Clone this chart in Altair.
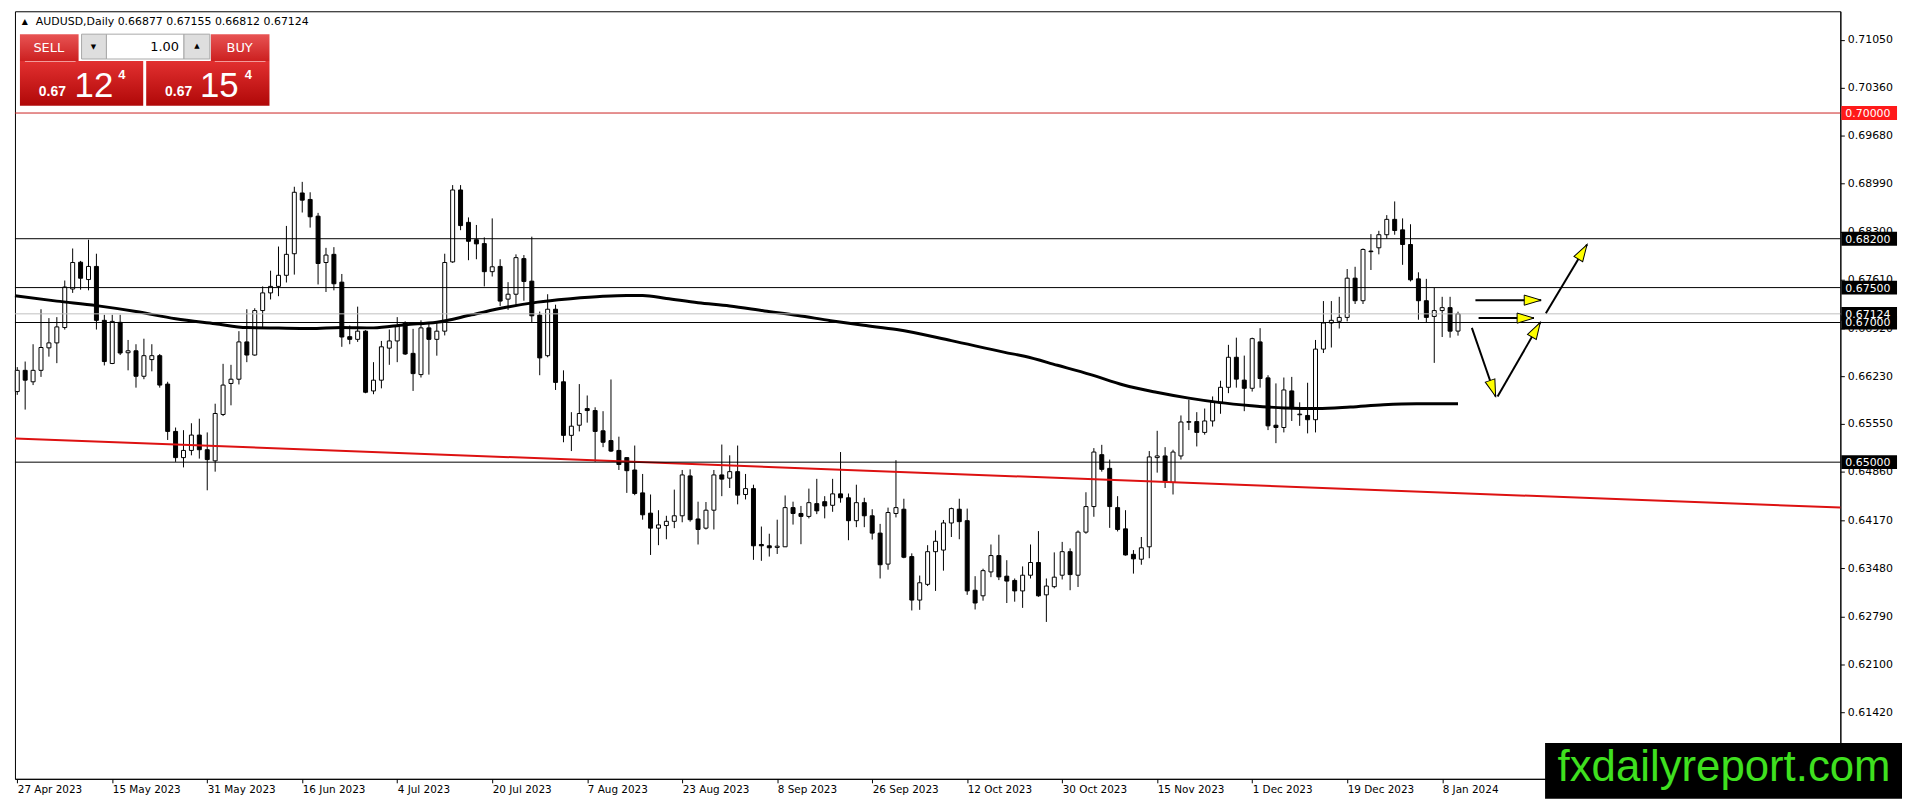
import math
import altair as alt
import pandas as pd

# ---------------- data ----------------
date_labels = ["27 Apr 2023", "15 May 2023", "31 May 2023", "16 Jun 2023", "4 Jul 2023",
               "20 Jul 2023", "7 Aug 2023", "23 Aug 2023", "8 Sep 2023", "26 Sep 2023",
               "12 Oct 2023", "30 Oct 2023", "15 Nov 2023", "1 Dec 2023", "19 Dec 2023",
               "8 Jan 2024"]
label_step = 12  # trading days between axis labels

opens = [0.66011, 0.66315, 0.66151, 0.66315, 0.66637, 0.66708, 0.66928, 0.67480, 0.67863, 0.67615,
         0.67803, 0.67031, 0.66413, 0.67002, 0.66567, 0.66595, 0.66230, 0.66469, 0.66525, 0.66118,
         0.65440, 0.65065, 0.65168, 0.65388, 0.65178, 0.65019, 0.65683, 0.66127, 0.66188, 0.66722,
         0.66534, 0.67171, 0.67424, 0.67517, 0.67676, 0.67985, 0.68855, 0.68762, 0.68523, 0.67859,
         0.67976, 0.67578, 0.66797, 0.66759, 0.66876, 0.66020, 0.66174, 0.66633, 0.66736, 0.66993,
         0.66558, 0.66254, 0.66923, 0.66759, 0.66876, 0.67868, 0.68898, 0.68434, 0.68186, 0.68130,
         0.67728, 0.67803, 0.67335, 0.67405, 0.67915, 0.67592, 0.67106, 0.66525, 0.67190, 0.66151,
         0.65384, 0.65529, 0.65767, 0.65739, 0.65449, 0.65309, 0.65168, 0.65065, 0.64888, 0.64560,
         0.64270, 0.64055, 0.64092, 0.64153, 0.64232, 0.64803, 0.64186, 0.64055, 0.64312, 0.64817,
         0.64771, 0.64864, 0.64537, 0.64621, 0.63821, 0.63802, 0.63779, 0.63788, 0.64349, 0.64265,
         0.64223, 0.64406, 0.64434, 0.64382, 0.64546, 0.64490, 0.64162, 0.64420, 0.64232, 0.63984,
         0.63540, 0.64265, 0.64326, 0.63648, 0.63025, 0.63250, 0.63718, 0.63741, 0.64129, 0.64326,
         0.64162, 0.63166, 0.63086, 0.63428, 0.63662, 0.63367, 0.63306, 0.63156, 0.63381, 0.63563,
         0.63100, 0.63217, 0.63381, 0.63718, 0.63381, 0.63998, 0.64364, 0.65107, 0.64911, 0.64349,
         0.64045, 0.63680, 0.63610, 0.63788, 0.65065, 0.65089, 0.64710, 0.65089, 0.65571, 0.65581,
         0.65426, 0.65590, 0.65847, 0.66072, 0.66502, 0.66175, 0.66058, 0.66722, 0.66207, 0.65529,
         0.65496, 0.66020, 0.65679, 0.65669, 0.65608, 0.66619, 0.66993, 0.67017, 0.67073, 0.67635,
         0.67312, 0.68023, 0.68070, 0.68257, 0.68477, 0.68327, 0.68117, 0.67625, 0.67312, 0.67087,
         0.67171, 0.67213, 0.66877]

highs = [0.66361, 0.66441, 0.66689, 0.67190, 0.67063, 0.67077, 0.67601, 0.68060, 0.67882, 0.68186,
         0.67985, 0.67110, 0.67110, 0.67110, 0.66750, 0.66689, 0.66768, 0.66689, 0.66549, 0.66151,
         0.65496, 0.65458, 0.65557, 0.65622, 0.65426, 0.65837, 0.66408, 0.66394, 0.66876, 0.67190,
         0.67204, 0.67517, 0.67742, 0.68088, 0.68383, 0.68944, 0.69014, 0.68865, 0.68570, 0.68069,
         0.68079, 0.67695, 0.66956, 0.67227, 0.66890, 0.66432, 0.66736, 0.66900, 0.67077, 0.67017,
         0.66909, 0.67031, 0.66993, 0.66993, 0.67985, 0.68968, 0.68968, 0.68505, 0.68397, 0.68219,
         0.68491, 0.67906, 0.67578, 0.67976, 0.67966, 0.68229, 0.67157, 0.67405, 0.67255, 0.66315,
         0.65716, 0.66118, 0.65955, 0.65786, 0.65730, 0.66184, 0.65365, 0.65065, 0.65238, 0.64831,
         0.64537, 0.64312, 0.64232, 0.64607, 0.64888, 0.64897, 0.64434, 0.64429, 0.64888, 0.65252,
         0.65098, 0.65238, 0.64831, 0.64677, 0.64078, 0.63975, 0.64176, 0.64523, 0.64434, 0.64373,
         0.64621, 0.64761, 0.64513, 0.64761, 0.65145, 0.64551, 0.64677, 0.64490, 0.64326, 0.64116,
         0.64349, 0.65028, 0.64476, 0.63694, 0.63376, 0.63811, 0.64022, 0.64172, 0.64349, 0.64476,
         0.64335, 0.63367, 0.63474, 0.63821, 0.63961, 0.63596, 0.63334, 0.63507, 0.63821, 0.64013,
         0.63334, 0.63708, 0.63858, 0.63765, 0.64022, 0.64569, 0.65201, 0.65248, 0.65037, 0.64513,
         0.64312, 0.63741, 0.63928, 0.65159, 0.65449, 0.65215, 0.65178, 0.65669, 0.65894, 0.65716,
         0.65768, 0.65941, 0.66166, 0.66680, 0.66783, 0.66526, 0.66783, 0.66919, 0.66245, 0.66128,
         0.66212, 0.66221, 0.65857, 0.66137, 0.66750, 0.67307, 0.67307, 0.67368, 0.67766, 0.67798,
         0.68060, 0.68266, 0.68313, 0.68538, 0.68734, 0.68491, 0.68407, 0.67719, 0.67625, 0.67494,
         0.67368, 0.67368, 0.67155]

lows = [0.65964, 0.65753, 0.66104, 0.66221, 0.66511, 0.66418, 0.66899, 0.67424, 0.67470, 0.67461,
        0.66899, 0.66385, 0.66404, 0.66534, 0.66315, 0.66067, 0.66188, 0.66301, 0.66067, 0.65318,
        0.65004, 0.64925, 0.65098, 0.65051, 0.64597, 0.64864, 0.65660, 0.65814, 0.66113, 0.66432,
        0.66525, 0.66923, 0.67330, 0.67377, 0.67573, 0.67686, 0.68575, 0.68359, 0.67545, 0.67437,
        0.67461, 0.66652, 0.66689, 0.66722, 0.65987, 0.65973, 0.66057, 0.66394, 0.66432, 0.66535,
        0.66020, 0.66212, 0.66254, 0.66525, 0.66815, 0.67854, 0.68322, 0.67892, 0.67906, 0.67517,
        0.67658, 0.67237, 0.67180, 0.67251, 0.67312, 0.66993, 0.66245, 0.66502, 0.66034, 0.65285,
        0.65159, 0.65440, 0.65566, 0.65005, 0.65215, 0.65145, 0.64888, 0.64560, 0.64527, 0.64176,
        0.63671, 0.63811, 0.63896, 0.64055, 0.64139, 0.64148, 0.63821, 0.64036, 0.64036, 0.64513,
        0.64630, 0.64396, 0.64466, 0.63601, 0.63587, 0.63648, 0.63685, 0.63788, 0.64106, 0.63825,
        0.64195, 0.64256, 0.64195, 0.64289, 0.64420, 0.63882, 0.64069, 0.64069, 0.63891, 0.63334,
        0.63460, 0.64209, 0.63624, 0.62876, 0.62885, 0.63226, 0.63156, 0.63446, 0.63928, 0.63896,
        0.63100, 0.62890, 0.63016, 0.63353, 0.63311, 0.62983, 0.63002, 0.62913, 0.63334, 0.63072,
        0.62712, 0.63194, 0.63320, 0.63166, 0.63212, 0.63975, 0.64218, 0.64864, 0.64059, 0.64008,
        0.63662, 0.63404, 0.63531, 0.63624, 0.64850, 0.64630, 0.64537, 0.65037, 0.65459, 0.65225,
        0.65394, 0.65510, 0.65693, 0.65988, 0.66067, 0.65730, 0.66011, 0.66067, 0.65459, 0.65272,
        0.65426, 0.65590, 0.65520, 0.65412, 0.65426, 0.66563, 0.66642, 0.66914, 0.67017, 0.67265,
        0.67265, 0.67752, 0.67976, 0.68201, 0.68257, 0.67826, 0.67588, 0.67040, 0.66993, 0.66422,
        0.66792, 0.66783, 0.66812]

closes = [0.66315, 0.66174, 0.66315, 0.66642, 0.66708, 0.66937, 0.67508, 0.67859, 0.67634, 0.67803,
          0.67031, 0.66441, 0.67016, 0.66563, 0.66595, 0.66230, 0.66525, 0.66525, 0.66104, 0.65440,
          0.65065, 0.65168, 0.65388, 0.65178, 0.65037, 0.65697, 0.66104, 0.66188, 0.66722, 0.66534,
          0.67171, 0.67424, 0.67517, 0.67676, 0.67976, 0.68865, 0.68752, 0.68514, 0.67845, 0.67966,
          0.67555, 0.66792, 0.66759, 0.66876, 0.66001, 0.66174, 0.66652, 0.66736, 0.66956, 0.66549,
          0.66268, 0.66923, 0.66759, 0.66876, 0.67859, 0.68898, 0.68388, 0.68163, 0.68126, 0.67728,
          0.67798, 0.67307, 0.67405, 0.67929, 0.67588, 0.67096, 0.66493, 0.67190, 0.66142, 0.65384,
          0.65515, 0.65697, 0.65739, 0.65440, 0.65285, 0.65159, 0.64967, 0.64878, 0.64551, 0.64246,
          0.64055, 0.64101, 0.64153, 0.64232, 0.64817, 0.64176, 0.64036, 0.64312, 0.64817, 0.64757,
          0.64864, 0.64527, 0.64621, 0.63802, 0.63802, 0.63774, 0.63797, 0.64349, 0.64265, 0.64223,
          0.64420, 0.64303, 0.64373, 0.64546, 0.64490, 0.64162, 0.64420, 0.64232, 0.63984, 0.63531,
          0.64279, 0.64349, 0.63638, 0.63025, 0.63273, 0.63718, 0.63867, 0.64129, 0.64335, 0.64148,
          0.63156, 0.62983, 0.63446, 0.63662, 0.63357, 0.63297, 0.63156, 0.63381, 0.63563, 0.63086,
          0.63226, 0.63353, 0.63718, 0.63390, 0.63998, 0.64364, 0.65145, 0.64897, 0.64364, 0.64036,
          0.63671, 0.63615, 0.63774, 0.65075, 0.65089, 0.64724, 0.65145, 0.65575, 0.65581, 0.65426,
          0.65590, 0.65861, 0.66072, 0.66502, 0.66189, 0.66058, 0.66769, 0.66198, 0.65520, 0.65496,
          0.66034, 0.65768, 0.65688, 0.65608, 0.66619, 0.66993, 0.67031, 0.67073, 0.67635, 0.67312,
          0.68046, 0.68014, 0.68257, 0.68477, 0.68318, 0.68117, 0.67611, 0.67312, 0.67073, 0.67171,
          0.67213, 0.66876, 0.67124]

# moving average (thick black curve), sampled along the bars
ma_bar = [-0.29, 5, 10, 15, 20, 25, 29, 33, 37, 41, 45, 49, 53, 57.4, 61.6, 65.75, 69.9, 74,
          77, 79, 82, 86, 90, 94.4, 98.6, 102.75, 106.9, 111.1, 118, 124.75, 127.25, 131.4,
          135.6, 139.75, 143.9, 148, 151.75, 155.9, 160.1, 164.25, 168.4, 172.6, 176.75, 182]
ma_val = [0.67382, 0.67306, 0.67242, 0.67157, 0.67054, 0.66983, 0.66927, 0.66920, 0.66915,
          0.66930, 0.66923, 0.66969, 0.67003, 0.67110, 0.67214, 0.67292, 0.67340, 0.67375,
          0.67387, 0.67387, 0.67345, 0.67284, 0.67237, 0.67166, 0.67101, 0.67026, 0.66960,
          0.66899, 0.66740, 0.66572, 0.66516, 0.66387, 0.66254, 0.66105, 0.66001, 0.65917,
          0.65856, 0.65809, 0.65776, 0.65767, 0.65790, 0.65823, 0.65837, 0.65837]

# red trend line (two end points)
trend_bar = [-0.29, 230.3]
trend_val = [0.65340, 0.64350]

# horizontal levels
level_val = [0.70000, 0.68200, 0.67500, 0.67000, 0.65000]
level_lbl = ["0.70000", "0.68200", "0.67500", "0.67000", "0.65000"]
bid_val = 0.67124
bid_lbl = "0.67124"

# right axis tick labels
y_ticks = [0.71050, 0.70360, 0.69680, 0.68990, 0.68300, 0.67610, 0.66920, 0.66230,
           0.65550, 0.64860, 0.64170, 0.63480, 0.62790, 0.62100, 0.61420]

# hand-drawn arrows (start -> tip)
arrow_x1 = [184.2, 184.6, 183.75, 187.0, 193.1]
arrow_p1 = [0.67320, 0.67063, 0.66923, 0.65941, 0.67134]
arrow_x2 = [192.5, 191.6, 186.75, 192.4, 198.3]
arrow_p2 = [0.67320, 0.67063, 0.65941, 0.67003, 0.68116]

header_text = "AUDUSD,Daily  0.66877 0.67155 0.66812 0.67124"

# ---------------- layout ----------------
W, H = 1836, 772
X_MIN, X_MAX = -0.29, 230.3
Y_MIN, Y_MAX = 0.60465, 0.71457
FONT = "DejaVu Sans"

n = len(opens)
assert len(highs) == n and len(lows) == n and len(closes) == n

df = pd.DataFrame({"i": list(range(n)), "open": opens, "high": highs,
                   "low": lows, "close": closes})

xs = alt.Scale(domain=[X_MIN, X_MAX], nice=False, zero=False)
ys = alt.Scale(domain=[Y_MIN, Y_MAX], nice=False, zero=False)

lab_array = "[" + ",".join("'%s'" % s for s in date_labels) + "]"
x_axis = alt.Axis(values=[k * label_step for k in range(len(date_labels))],
                  labelExpr=lab_array + "[round(datum.value/%d)]" % label_step,
                  labelAlign="left", labelBaseline="top", labelPadding=2, tickSize=4,
                  labelFontSize=10.5, labelFont=FONT, labelColor="black",
                  domainColor="black", tickColor="black", title=None, grid=False,
                  labelFlush=False, labelOverlap=False)
y_axis = alt.Axis(orient="right", values=y_ticks, format=".5f", tickSize=4, labelPadding=3,
                  labelFontSize=11, labelFont=FONT, labelColor="black", domainColor="black",
                  tickColor="black", title=None, grid=False, labelFlush=False,
                  labelOverlap=False, labelBaseline="middle")


def X(f):
    return alt.X(f, type="quantitative", scale=xs, axis=x_axis)


def Y(f):
    return alt.Y(f, type="quantitative", scale=ys, axis=y_axis)


wicks = alt.Chart(df).mark_rule(color="black", strokeWidth=1).encode(
    x=X("i"), y=Y("low"), y2=alt.Y2("high"))

bodies = alt.Chart(df).mark_rect(stroke="black", strokeWidth=1, xOffset=-2, x2Offset=2).encode(
    x=X("i"), x2=alt.X2("i"), y=Y("open"), y2=alt.Y2("close"),
    fill=alt.condition("datum.close >= datum.open", alt.value("white"), alt.value("black")))

ma = alt.Chart(pd.DataFrame({"b": ma_bar, "v": ma_val})).mark_line(
    color="black", strokeWidth=3, interpolate="monotone").encode(x=X("b"), y=Y("v"))

trend = alt.Chart(pd.DataFrame({"b": trend_bar, "v": trend_val})).mark_line(
    color="#dd1111", strokeWidth=2).encode(x=X("b"), y=Y("v"))

lv = pd.DataFrame({"v": level_val, "lbl": level_lbl,
                   "red": [l == "0.70000" for l in level_lbl]})
levels = alt.Chart(lv).mark_rule(strokeWidth=1).encode(
    y=Y("v"),
    color=alt.condition("datum.red", alt.value("#cc2222"), alt.value("black")))

bid = alt.Chart(pd.DataFrame({"v": [bid_val], "lbl": [bid_lbl]})).mark_rule(
    color="#c0c0c0", strokeWidth=1).encode(y=Y("v"))

# price boxes on the right axis
box_df = pd.DataFrame({"v": [bid_val] + level_val, "lbl": [bid_lbl] + level_lbl,
                       "red": [False] + [l == "0.70000" for l in level_lbl]})
boxes = alt.Chart(box_df).mark_rect(yOffset=-7, y2Offset=7).encode(
    x=alt.value(W + 1), x2=alt.value(W + 57), y=Y("v"), y2=alt.Y2("v"),
    fill=alt.condition("datum.red", alt.value("#ff1a1a"), alt.value("black")))
box_txt = alt.Chart(box_df).mark_text(align="left", baseline="middle", font=FONT,
                                      fontSize=11, color="white", dy=1).encode(
    x=alt.value(W + 5), y=Y("v"), text="lbl")

# arrows
sx = W / (X_MAX - X_MIN)
sy = H / (Y_MAX - Y_MIN)
angles = [(math.degrees(math.atan2((b - a) * sx, (q - p) * sy)) + 360) % 360
          for a, b, p, q in zip(arrow_x1, arrow_x2, arrow_p1, arrow_p2)]
adf = pd.DataFrame({"x1": arrow_x1, "x2": arrow_x2, "p1": arrow_p1, "p2": arrow_p2,
                    "ang": angles})
arrow_lines = alt.Chart(adf).mark_rule(color="black", strokeWidth=2).encode(
    x=X("x1"), x2=alt.X2("x2"), y=Y("p1"), y2=alt.Y2("p2"))
arrow_heads = alt.Chart(adf).mark_point(
    shape="M0,0L-0.3,1L0.3,1Z", size=1156, filled=True, fill="#ffff00", stroke="black",
    strokeWidth=1, opacity=1).encode(
    x=X("x2"), y=Y("p2"), angle=alt.Angle("ang:Q", scale=None))

# ---------------- terminal decorations (pixel placed) ----------------
one = pd.DataFrame({"a": [1]})


def px_rect(x1, x2, y1, y2, **kw):
    return alt.Chart(one).mark_rect(**kw).encode(
        x=alt.value(x1), x2=alt.value(x2), y=alt.value(y1), y2=alt.value(y2))


def px_text(x, y, s, **kw):
    return alt.Chart(one).mark_text(text=s, **kw).encode(x=alt.value(x), y=alt.value(y))


def grad(c1, c2):
    return alt.LinearGradient(gradient="linear", x1=0, y1=0, x2=0, y2=1,
                              stops=[alt.GradientStop(offset=0, color=c1),
                                     alt.GradientStop(offset=1, color=c2)])


btn = grad("#e85454", "#cc2020")
panel = grad("#e23030", "#b00808")

deco = [
    px_text(10, 11, "\u25b2", font=FONT, fontSize=8, color="black", align="center", baseline="middle"),
    px_text(21, 11, header_text, font=FONT, fontSize=11, color="black", align="left", baseline="middle"),
    px_rect(5, 64, 23, 50, fill=btn),
    px_rect(197, 256, 23, 50, fill=btn),
    px_rect(5, 129, 50, 95, fill=panel),
    px_rect(132, 256, 50, 95, fill=panel),
    px_rect(10, 61, 50, 51, fill="#f29a9a"),
    px_rect(201, 252, 50, 51, fill="#f29a9a"),
    px_rect(67, 92, 23, 48, fill="#dedede", stroke="#a8a8a8", strokeWidth=1),
    px_rect(92, 170, 23, 48, fill="white", stroke="#a8a8a8", strokeWidth=1),
    px_rect(170, 196, 23, 48, fill="#dedede", stroke="#a8a8a8", strokeWidth=1),
    px_text(79, 36, "\u25bc", font=FONT, fontSize=7, color="black", align="center", baseline="middle"),
    px_text(183, 35, "\u25b2", font=FONT, fontSize=7, color="black", align="center", baseline="middle"),
    px_text(165, 36, "1.00", font=FONT, fontSize=13, color="black", align="right", baseline="middle"),
    px_text(34, 37, "SELL", font=FONT, fontSize=13, color="white", align="center", baseline="middle"),
    px_text(226, 37, "BUY", font=FONT, fontSize=13, color="white", align="center", baseline="middle"),
    px_text(24, 85, "0.67", font="Liberation Sans", fontSize=14, fontWeight="bold", color="white", align="left", baseline="alphabetic"),
    px_text(60, 86, "12", font="Liberation Sans", fontSize=35, color="white", align="left", baseline="alphabetic"),
    px_text(104, 68, "4", font="Liberation Sans", fontSize=13, fontWeight="bold", color="white", align="left", baseline="alphabetic"),
    px_text(151, 85, "0.67", font="Liberation Sans", fontSize=14, fontWeight="bold", color="white", align="left", baseline="alphabetic"),
    px_text(186, 86, "15", font="Liberation Sans", fontSize=35, color="white", align="left", baseline="alphabetic"),
    px_text(231, 68, "4", font="Liberation Sans", fontSize=13, fontWeight="bold", color="white", align="left", baseline="alphabetic"),
    px_rect(1539, 1898, 736, 792, fill="black"),
    px_text(1719, 774, "fxdailyreport.com", font="Liberation Sans", fontSize=44,
            color="#3fe01f", align="center", baseline="alphabetic"),
]

chart = alt.layer(wicks, bodies, ma, trend, levels, bid, arrow_lines, arrow_heads,
                  boxes, box_txt, *deco).properties(
    width=W, height=H, background="white",
    padding={"left": 1, "top": 1, "right": 0, "bottom": 0},
).configure_view(stroke="black", strokeWidth=1)

chart.save("out.html", embed_options={"renderer": "svg", "actions": False})
